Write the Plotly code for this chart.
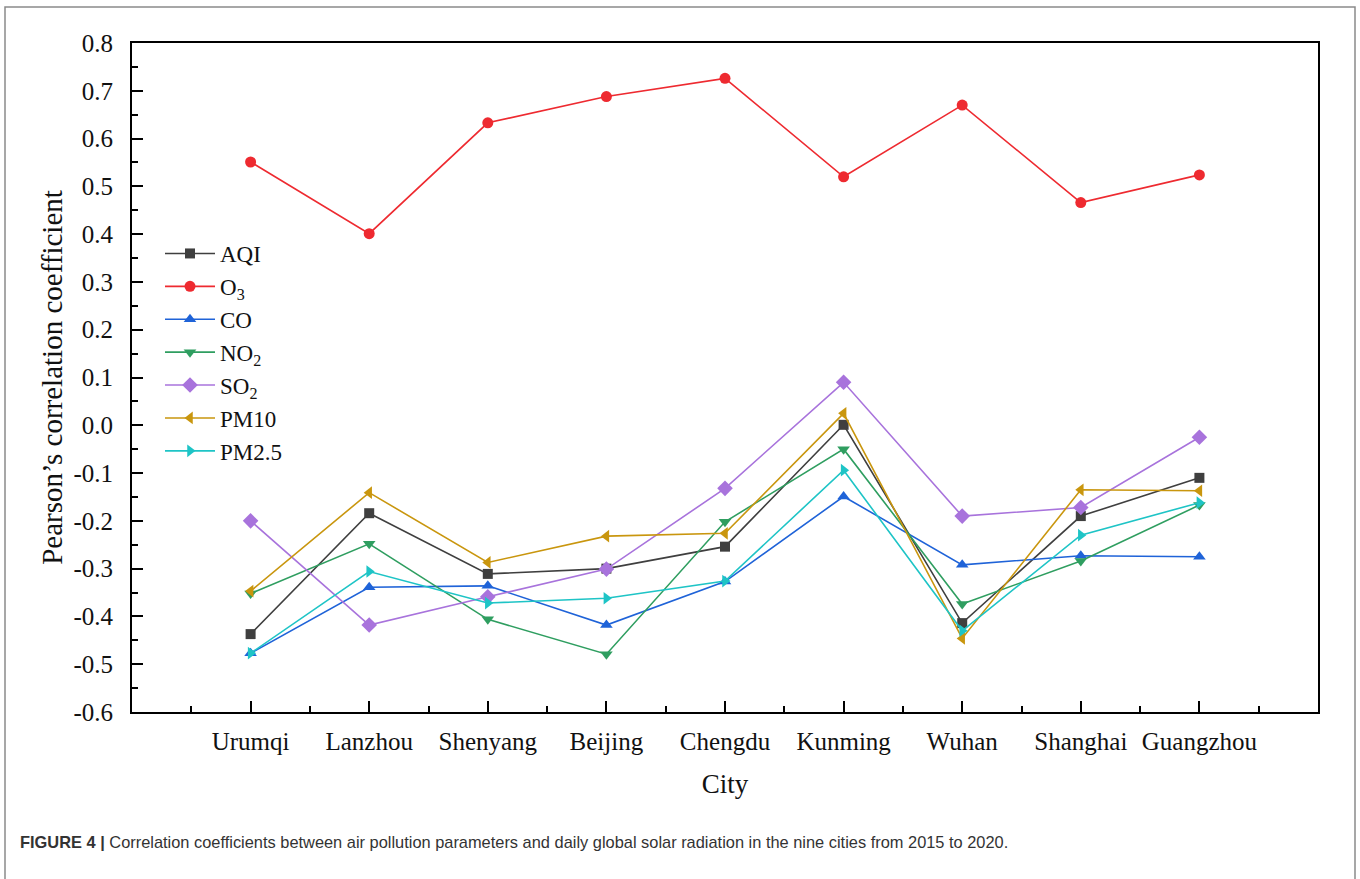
import plotly.graph_objects as go

# Cities on the horizontal axis (positions 1..9)
cities = ["Urumqi", "Lanzhou", "Shenyang", "Beijing", "Chengdu",
          "Kunming", "Wuhan", "Shanghai", "Guangzhou"]
city_pos = [1, 2, 3, 4, 5, 6, 7, 8, 9]

# Pearson's correlation coefficient of each pollutant with daily global solar radiation
aqi = [-0.437, -0.184, -0.311, -0.300, -0.254, 0.001, -0.414, -0.190, -0.110]
o3 = [0.551, 0.401, 0.633, 0.688, 0.726, 0.520, 0.670, 0.466, 0.524]
co = [-0.477, -0.339, -0.336, -0.418, -0.327, -0.149, -0.292, -0.273, -0.275]
no2 = [-0.352, -0.248, -0.406, -0.479, -0.202, -0.050, -0.374, -0.284, -0.167]
so2 = [-0.200, -0.418, -0.359, -0.301, -0.132, 0.090, -0.190, -0.172, -0.025]
pm10 = [-0.347, -0.141, -0.287, -0.232, -0.226, 0.025, -0.446, -0.135, -0.137]
pm25 = [-0.477, -0.306, -0.372, -0.362, -0.326, -0.094, -0.430, -0.230, -0.162]

y_ticks = [-0.6, -0.5, -0.4, -0.3, -0.2, -0.1, 0.0, 0.1, 0.2, 0.3, 0.4, 0.5, 0.6, 0.7, 0.8]

series = [
    ("AQI", aqi, "#3f3f3f", "square"),
    ("O<sub>3</sub>", o3, "#ee2a30", "circle"),
    ("CO", co, "#1f63d8", "triangle-up"),
    ("NO<sub>2</sub>", no2, "#2f9e60", "triangle-down"),
    ("SO<sub>2</sub>", so2, "#a873dc", "diamond"),
    ("PM10", pm10, "#c9960e", "triangle-left"),
    ("PM2.5", pm25, "#1ec4c6", "triangle-right"),
]

serif = "Liberation Serif, Times New Roman, serif"

fig = go.Figure()
for name, vals, color, symbol in series:
    size = 12 if symbol == "diamond" else 11
    if symbol == "square":
        size = 10
    fig.add_trace(go.Scatter(
        x=city_pos, y=vals, name=name, mode="lines+markers",
        line=dict(color=color, width=1.6),
        marker=dict(symbol=symbol, size=size, color=color, line=dict(width=0)),
    ))

# Plot-area geometry in pixels
W, H = 1360, 879
ML, MR, MT, MB = 132, 42, 43, 167
pw, ph = W - ML - MR, H - MT - MB


def px_x(x):
    return (x - ML) / pw


def px_y(y):
    return (H - MB - y) / ph


fig.update_layout(
    width=W, height=H,
    margin=dict(l=ML, r=MR, t=MT, b=MB),
    paper_bgcolor="white", plot_bgcolor="white",
    font=dict(family=serif, color="#111111"),
    showlegend=True,
    legend=dict(
        x=px_x(160), y=px_y(232), xanchor="left", yanchor="top",
        bgcolor="rgba(0,0,0,0)", borderwidth=0,
        font=dict(family=serif, size=23, color="#111111"),
        itemwidth=50, tracegroupgap=0,
    ),
    xaxis=dict(
        range=[0, 10], tickmode="array", tickvals=city_pos, ticktext=cities,
        ticks="inside", ticklen=11, tickwidth=1.5, tickcolor="black",
        showline=True, linecolor="black", linewidth=2, mirror=True,
        showgrid=False, zeroline=False,
        tickfont=dict(family=serif, size=25, color="#111111"),
        ticklabelstandoff=6,
        minor=dict(tickvals=[0.5 + i for i in range(10)], ticks="inside",
                   ticklen=6, tickwidth=1.5, tickcolor="black", showgrid=False),
        title=dict(text="City", font=dict(family=serif, size=27, color="#111111"),
                   standoff=20),
    ),
    yaxis=dict(
        range=[-0.6, 0.8], tickmode="array", tickvals=y_ticks,
        ticktext=[f"{v:.1f}" for v in y_ticks],
        ticks="inside", ticklen=11, tickwidth=1.5, tickcolor="black",
        showline=True, linecolor="black", linewidth=2, mirror=True,
        showgrid=False, zeroline=False,
        tickfont=dict(family=serif, size=25, color="#111111"),
        ticklabelstandoff=12,
        minor=dict(dtick=0.05, tick0=0, ticks="inside", ticklen=6,
                   tickwidth=1.5, tickcolor="black", showgrid=False),
        title=dict(text="Pearson’s correlation coefficient",
                   font=dict(family=serif, size=29, color="#111111"), standoff=2),
    ),
)

# Outer figure frame
fig.add_shape(type="rect", xref="paper", yref="paper",
              x0=px_x(5), x1=px_x(1355), y0=px_y(895), y1=px_y(7),
              line=dict(color="#8a8a8a", width=1.5), fillcolor="rgba(0,0,0,0)",
              layer="below")

# Figure caption
fig.add_annotation(
    xref="paper", yref="paper", x=px_x(18), y=px_y(842),
    xanchor="left", yanchor="middle", showarrow=False,
    text="<b>FIGURE 4 |</b> Correlation coefficients between air pollution parameters "
         "and daily global solar radiation in the nine cities from 2015 to 2020.",
    font=dict(family="Liberation Sans, Arial, sans-serif", size=16.4, color="#333333"),
)

fig.write_html("out.html")
